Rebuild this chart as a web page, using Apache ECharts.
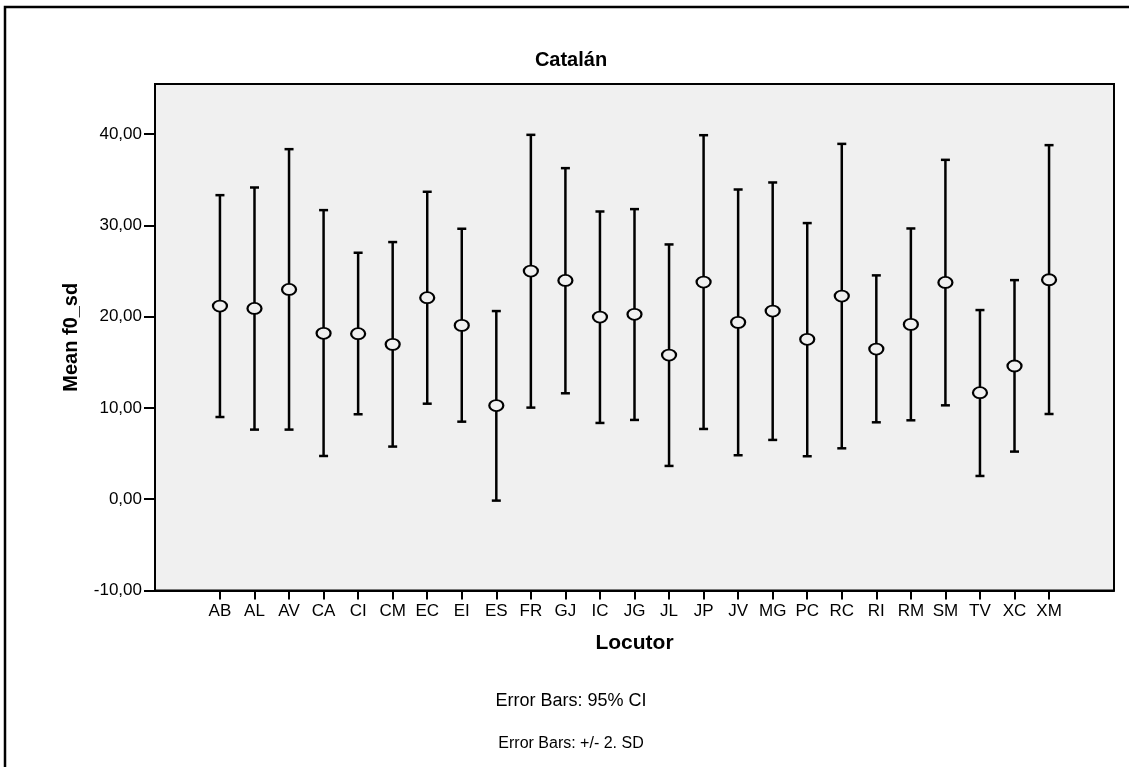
<!DOCTYPE html>
<html>
<head>
<meta charset="utf-8">
<title>Catalán</title>
<script src="https://cdn.jsdelivr.net/npm/echarts@6/dist/echarts.min.js"></script>
<style>
  html, body { margin: 0; padding: 0; background: #fff; }
  #chart { width: 1129px; height: 767px; }
</style>
</head>
<body>
<div id="chart"></div>
<script>
// locutores (eje x)
const locutores = ['AB', 'AL', 'AV', 'CA', 'CI', 'CM', 'EC', 'EI', 'ES', 'FR', 'GJ', 'IC', 'JG',
  'JL', 'JP', 'JV', 'MG', 'PC', 'RC', 'RI', 'RM', 'SM', 'TV', 'XC', 'XM']
// media de f0_sd
const medias = [21.17, 20.91, 22.99, 18.18, 18.14, 16.97, 22.08, 19.05, 10.26, 25.0, 23.98, 19.96, 20.26,
  15.8, 23.8, 19.38, 20.62, 17.52, 22.26, 16.46, 19.16, 23.76, 11.68, 14.6, 24.05]
// limites de la barra de error (+/- 2 SD)
const inferior = [9.01, 7.63, 7.63, 4.74, 9.31, 5.77, 10.47, 8.5, -0.15, 10.04, 11.61, 8.36, 8.69,
  3.65, 7.7, 4.82, 6.5, 4.71, 5.58, 8.43, 8.65, 10.29, 2.55, 5.22, 9.34]
const superior = [33.32, 34.16, 38.36, 31.68, 27.01, 28.18, 33.69, 29.64, 20.62, 39.93, 36.28, 31.53, 31.79,
  27.92, 39.89, 33.94, 34.71, 30.26, 38.94, 24.53, 29.67, 37.19, 20.73, 24.01, 38.8]
// marcas del eje y
const yTicks = [-10, 0, 10, 20, 30, 40]

const font = 'Liberation Sans, Arial, sans-serif'
const posiciones = locutores.map((c, i) => i)

const chart = echarts.init(document.getElementById('chart'))

const option = {
  animation: false,
  backgroundColor: '#fff',
  textStyle: { fontFamily: font, color: '#000' },
  graphic: [
    // marco exterior
    {
      type: 'rect',
      shape: { x: 5, y: 7, width: 1300, height: 900 },
      style: { fill: 'none', stroke: '#000', lineWidth: 2.5 },
      silent: true
    },
    {
      type: 'text',
      x: 571,
      y: 60,
      style: { text: 'Catalán', font: 'bold 20px ' + font, fill: '#000', align: 'center', verticalAlign: 'middle' }
    },
    {
      type: 'text',
      x: 571,
      y: 701,
      style: { text: 'Error Bars: 95% CI', font: '18px ' + font, fill: '#000', align: 'center', verticalAlign: 'middle' }
    },
    {
      type: 'text',
      x: 571,
      y: 744,
      style: { text: 'Error Bars: +/- 2. SD', font: '16px ' + font, fill: '#000', align: 'center', verticalAlign: 'middle' }
    }
  ],
  grid: {
    left: 155,
    right: 15,
    top: 84,
    bottom: 176.5,
    show: true,
    backgroundColor: '#f0f0f0',
    borderColor: '#000',
    borderWidth: 2
  },
  xAxis: {
    type: 'value',
    min: -1.88,
    max: 25.88,
    name: 'Locutor',
    nameLocation: 'middle',
    nameGap: 42,
    nameTextStyle: { fontSize: 21, fontWeight: 'bold', color: '#000', fontFamily: font },
    axisLine: { show: true, onZero: false, lineStyle: { color: '#000', width: 2 } },
    axisTick: { show: true, length: 9, lineStyle: { color: '#000', width: 2 }, customValues: posiciones },
    axisLabel: {
      customValues: posiciones,
      margin: 12,
      fontSize: 17,
      color: '#000',
      fontFamily: font,
      formatter: (v) => locutores[Math.round(v)] || ''
    },
    splitLine: { show: false }
  },
  yAxis: {
    type: 'value',
    min: -10,
    max: 45.5,
    interval: 10,
    name: 'Mean f0_sd',
    nameLocation: 'middle',
    nameGap: 74,
    nameTextStyle: { fontSize: 20, fontWeight: 'bold', color: '#000', fontFamily: font },
    axisLine: { show: true, onZero: false, lineStyle: { color: '#000', width: 2 } },
    axisTick: { show: true, length: 11, lineStyle: { color: '#000', width: 2 }, customValues: yTicks },
    axisLabel: {
      customValues: yTicks,
      margin: 13,
      fontSize: 17,
      color: '#000',
      fontFamily: font,
      formatter: (v) => v.toFixed(2).replace('.', ',')
    },
    splitLine: { show: false }
  },
  series: [
    {
      // barras de error
      type: 'custom',
      data: locutores.map((c, i) => [i, inferior[i], superior[i]]),
      renderItem(params, api) {
        const x = api.value(0)
        const lo = api.coord([x, api.value(1)])
        const hi = api.coord([x, api.value(2)])
        const w = 4.5
        const style = { stroke: '#000', lineWidth: 2.5 }
        return {
          type: 'group',
          children: [
            { type: 'line', shape: { x1: lo[0], y1: lo[1], x2: hi[0], y2: hi[1] }, style },
            { type: 'line', shape: { x1: hi[0] - w, y1: hi[1], x2: hi[0] + w, y2: hi[1] }, style },
            { type: 'line', shape: { x1: lo[0] - w, y1: lo[1], x2: lo[0] + w, y2: lo[1] }, style }
          ]
        }
      },
      z: 2
    },
    {
      // medias
      type: 'scatter',
      data: medias.map((m, i) => [i, m]),
      symbol: 'circle',
      symbolSize: [14, 11],
      itemStyle: { color: '#f0f0f0', borderColor: '#000', borderWidth: 2, opacity: 1 },
      z: 3
    }
  ]
}

chart.setOption(option)
</script>
</body>
</html>
